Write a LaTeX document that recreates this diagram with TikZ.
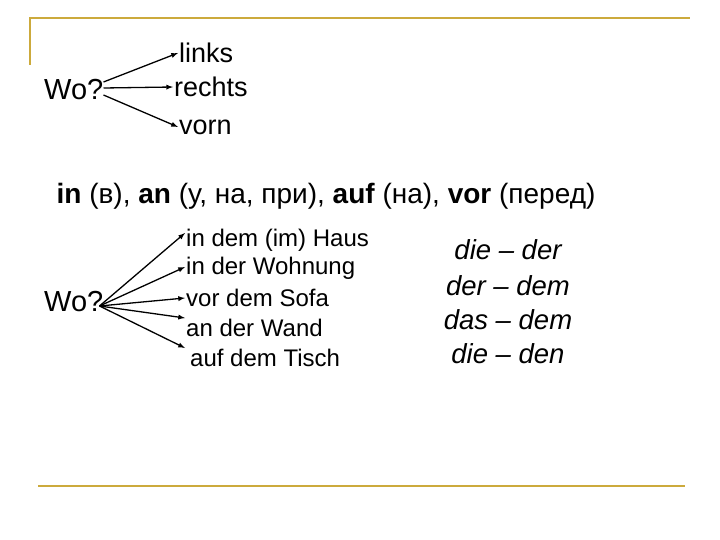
\documentclass[tikz,border=0pt]{standalone}
\usepackage{fontspec}
\setmainfont{Liberation Sans}
\begin{document}
\begin{tikzpicture}[x=1pt,y=-1pt,
  deco/.style={draw={rgb,255:red,204;green,170;blue,60},line width=1.6pt},
  txt/.style={inner sep=1pt,anchor=west,font=\fontsize{27}{29}\selectfont},
  wo/.style={inner sep=1pt,anchor=west,font=\fontsize{29}{31}\selectfont},
  mdl/.style={inner sep=1pt,font=\fontsize{28}{30}\selectfont},
  lst/.style={inner sep=1pt,anchor=west,font=\fontsize{24}{26}\selectfont},
  rgt/.style={inner sep=1pt,font=\fontsize{27.5}{29}\selectfont\itshape},
  arr/.style={-latex,line width=1.3pt}]
\useasboundingbox (0,0) rectangle (720,540);
\draw[deco] (30,65) -- (30,18) -- (690,18);
\draw[deco] (38,486) -- (685,486);
% top
\node[wo] (wo1) at (43,90) {Wo?};
\node[txt] (links) at (178,53) {links};
\node[txt] (rechts) at (173,87) {rechts};
\node[txt] (vorn) at (178,127) {vorn};
\draw[arr] ([xshift=-1pt,yshift=8pt]wo1.east) -- (links.west);
\draw[arr] ([xshift=-1pt,yshift=2pt]wo1.east) -- (rechts.west);
\draw[arr] ([xshift=-1pt,yshift=-5pt]wo1.east) -- (vorn.west);
% middle
\node[mdl] (mid) at (326,196) {\textbf{in} (в), \textbf{an} (у, на, при), \textbf{auf} (на), \textbf{vor} (перед)};
% bottom
\node[wo] (wo2) at (43,302) {Wo?};
\node[lst] (l1) at (185,240) {in dem (im) Haus};
\node[lst] (l2) at (185,268) {in der Wohnung};
\node[lst] (l3) at (185,298) {vor dem Sofa};
\node[lst] (l4) at (185,328) {an der Wand};
\node[lst] (l5) at (189,358) {auf dem Tisch};
\coordinate (s) at ([xshift=-5pt,yshift=-4pt]wo2.east);
\draw[arr] (s) -- ([yshift=7pt]l1.west);
\draw[arr] (s) -- ([yshift=1pt]l2.west);
\draw[arr] (s) -- (l3.west);
\draw[arr] (s) -- ([yshift=10pt]l4.west);
\draw[arr] (s) -- ([xshift=-4pt,yshift=10pt]l5.west);
\node[rgt] (r1) at (508,250) {die – der};
\node[rgt] (r2) at (508,286) {der – dem};
\node[rgt] (r3) at (508,320) {das – dem};
\node[rgt] (r4) at (508,354) {die – den};
\end{tikzpicture}
\end{document}
